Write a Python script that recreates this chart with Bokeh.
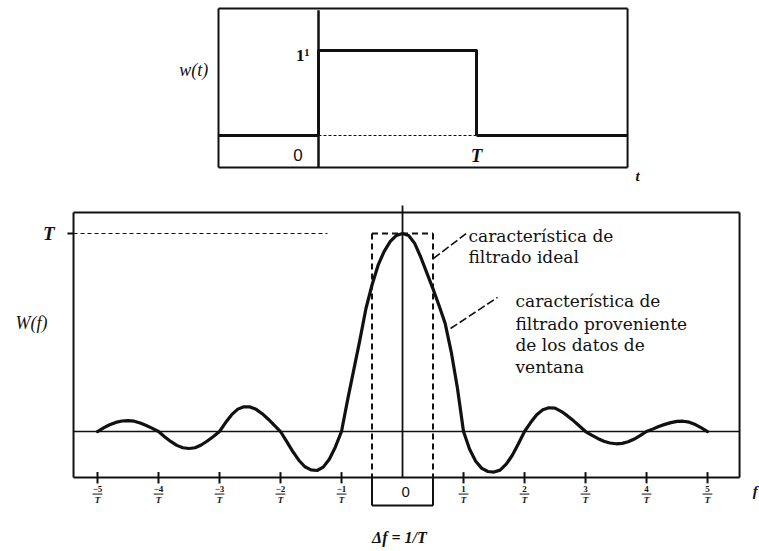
from bokeh.plotting import figure
from bokeh.layouts import column
from bokeh.models import Range1d
from bokeh.core.properties import value
from bokeh.embed import file_html
from bokeh.resources import INLINE

# ---------------- data ----------------
# window function w(t): rectangular pulse of height 1 from 0 to T (T = 1)
window_t = [0, 0, 1, 1]
window_w = [0, 1, 1, 0]

# spectrum W(f) (f in units of 1/T, W in units of T)
spec_f = [-5.0, -4.9, -4.8, -4.7, -4.6, -4.5, -4.4, -4.3, -4.2, -4.1,
          -4.0, -3.9, -3.8, -3.7, -3.6, -3.5, -3.4, -3.3, -3.2, -3.1,
          -3.0, -2.9, -2.8, -2.7, -2.6, -2.5, -2.4, -2.3, -2.2, -2.1,
          -2.0, -1.9, -1.8, -1.7, -1.6, -1.5, -1.4, -1.3, -1.2, -1.1,
          -1.0, -0.9, -0.8, -0.7, -0.6, -0.5, -0.4, -0.3, -0.2, -0.1,
          0.0, 0.1, 0.2, 0.3, 0.4, 0.5, 0.6, 0.7, 0.8, 0.9,
          1.0, 1.1, 1.2, 1.3, 1.4, 1.5, 1.6, 1.7, 1.8, 1.9,
          2.0, 2.1, 2.2, 2.3, 2.4, 2.5, 2.6, 2.7, 2.8, 2.9,
          3.0, 3.1, 3.2, 3.3, 3.4, 3.5, 3.6, 3.7, 3.8, 3.9,
          4.0, 4.1, 4.2, 4.3, 4.4, 4.5, 4.6, 4.7, 4.8, 4.9, 5.0]
spec_W = [0.0, 0.018, 0.034, 0.046, 0.053, 0.055, 0.052, 0.043, 0.030, 0.016,
          0.0, -0.026, -0.050, -0.070, -0.082, -0.086, -0.082, -0.068, -0.048, -0.025,
          0.0, 0.045, 0.085, 0.113, 0.125, 0.124, 0.112, 0.090, 0.062, 0.031,
          0.0, -0.050, -0.100, -0.145, -0.178, -0.194, -0.197, -0.180, -0.140, -0.078,
          0.0, 0.16, 0.31, 0.46, 0.62, 0.74, 0.84, 0.91, 0.96, 0.99,
          1.0, 0.99, 0.95, 0.88, 0.80, 0.72, 0.635, 0.545, 0.40, 0.22,
          0.0, -0.090, -0.150, -0.186, -0.202, -0.205, -0.195, -0.165, -0.120, -0.062,
          0.0, 0.045, 0.085, 0.110, 0.120, 0.118, 0.102, 0.080, 0.055, 0.028,
          0.0, -0.018, -0.035, -0.049, -0.058, -0.062, -0.060, -0.052, -0.038, -0.020,
          0.0, 0.012, 0.025, 0.036, 0.045, 0.051, 0.052, 0.047, 0.035, 0.018, 0.0]

# ideal filter: passband of width 1/T centred on 0, height T
ideal_f = [-0.5, 0.5]
ideal_W = 1.0

# frequency ticks
tick_vals = [-5, -4, -3, -2, -1, 1, 2, 3, 4, 5]
tick_nums = ["\u22125", "\u22124", "\u22123", "\u22122", "\u22121", "1", "2", "3", "4", "5"]
tick_den = "T"

ann_ideal = ["característica de", "filtrado ideal"]
ann_window = ["característica de", "filtrado proveniente", "de los datos de", "ventana"]

INK = "#111111"
SERIF = "DejaVu Serif"
TSERIF = "Liberation Serif"


def make_fig(w, h, xr, yr):
    p = figure(width=w, height=h, x_range=Range1d(*xr), y_range=Range1d(*yr),
               output_backend="svg", toolbar_location=None,
               x_axis_location=None, y_axis_location=None,
               min_border=0, outline_line_color=None,
               background_fill_color="white", border_fill_color="white")
    p.grid.visible = False
    return p


# ---------------- top panel: w(t) ----------------
top = make_fig(759, 193, (-2.0127, 2.791), (-0.682, 1.588))
tl, tr, tb, tt = -0.633, 1.956, -0.376, 1.494

# frame
top.segment(x0=[tl, tr, tl, tl], y0=[tb, tb, tt, tb], x1=[tl, tr, tr, tr], y1=[tt, tt, tt, tb],
            line_color=INK, line_width=2)
# t = 0 divider
top.segment(x0=[0], y0=[tb], x1=[0], y1=[tt - 0.02], line_color=INK, line_width=2.5)
# thin time axis under the pulse
top.line(x=[window_t[0], window_t[-1]], y=[0, 0], line_color=INK, line_width=1.2, line_dash="3 2")
# zero level outside the pulse
top.segment(x0=[tl, window_t[-1]], y0=[0, 0], x1=[window_t[0], tr], y1=[0, 0],
            line_color=INK, line_width=3)
# the pulse
top.line(x=window_t, y=window_w, line_color=INK, line_width=3, line_join="round")

top.text(x=[-0.79], y=[0.765], text=["w(t)"], text_font=value(TSERIF), text_font_style="italic",
         text_font_size="18px", text_align="center", text_baseline="middle", text_color=INK)
top.text(x=[-0.10], y=[0.94], text=["1\u00b9"], text_font=value(TSERIF), text_font_style="bold",
         text_font_size="17px", text_align="center", text_baseline="middle", text_color=INK)
top.text(x=[-0.13], y=[-0.235], text=["0"], text_font=value("Liberation Sans"),
         text_font_size="17px", text_align="center", text_baseline="middle", text_color=INK)
top.text(x=[1.0], y=[-0.235], text=["T"], text_font=value(TSERIF), text_font_style="bold italic",
         text_font_size="19px", text_align="center", text_baseline="middle", text_color=INK)
top.text(x=[2.02], y=[-0.48], text=["t"], text_font=value(TSERIF), text_font_style="bold italic",
         text_font_size="15px", text_align="center", text_baseline="middle", text_color=INK)

# ---------------- bottom panel: W(f) ----------------
bot = make_fig(759, 358, (-6.590, 5.852), (-0.606, 1.202))
fl, fr, fb, ft = -5.393, 5.525, -0.232, 1.106
box_b = -0.374

# frame
bot.segment(x0=[fl, fr, fl, fl], y0=[fb, fb, ft, fb], x1=[fl, fr, fr, fr], y1=[ft, ft, ft, fb],
            line_color=INK, line_width=2)
# zero line
bot.segment(x0=[fl], y0=[0], x1=[fr], y1=[0], line_color=INK, line_width=1.6)
# f = 0 line
bot.segment(x0=[0], y0=[fb], x1=[0], y1=[ft + 0.035], line_color=INK, line_width=1.8)
# dotted T level
bot.segment(x0=[fl], y0=[ideal_W], x1=[-1.23], y1=[ideal_W], line_color=INK, line_width=1.2,
            line_dash="4 3")
bot.segment(x0=[fl - 0.1], y0=[ideal_W], x1=[fl], y1=[ideal_W], line_color=INK, line_width=2)

# ideal filter (dashed box, continuing down to the "0" box)
bot.segment(x0=ideal_f, y0=[ideal_W, ideal_W], x1=ideal_f, y1=[fb, fb], line_color=INK,
            line_width=2, line_dash="6 4")
bot.segment(x0=[ideal_f[0]], y0=[ideal_W], x1=[ideal_f[1]], y1=[ideal_W], line_color=INK,
            line_width=2, line_dash="6 4")
bot.segment(x0=ideal_f + [ideal_f[0]], y0=[fb, fb, box_b], x1=ideal_f + [ideal_f[1]],
            y1=[box_b, box_b, box_b], line_color=INK, line_width=2)

# window spectrum
bot.line(x=spec_f, y=spec_W, line_color=INK, line_width=3.2, line_join="round", line_cap="round")

# ticks and fraction labels
bot.segment(x0=tick_vals, y0=[-0.205] * len(tick_vals), x1=tick_vals, y1=[-0.262] * len(tick_vals),
            line_color=INK, line_width=2)
bot.segment(x0=[v - 0.08 for v in tick_vals], y0=[-0.316] * len(tick_vals),
            x1=[v + 0.08 for v in tick_vals], y1=[-0.316] * len(tick_vals),
            line_color=INK, line_width=1)
bot.text(x=tick_vals, y=[-0.288] * len(tick_vals), text=tick_nums, text_font=value(TSERIF),
         text_font_style="bold", text_font_size="9px", text_align="center", text_baseline="middle",
         text_color=INK)
bot.text(x=tick_vals, y=[-0.345] * len(tick_vals), text=[tick_den] * len(tick_vals),
         text_font=value(TSERIF), text_font_style="bold italic", text_font_size="9px",
         text_align="center", text_baseline="middle", text_color=INK)
bot.text(x=[0.05], y=[-0.303], text=["0"], text_font=value("Liberation Sans"),
         text_font_size="15px", text_align="center", text_baseline="middle", text_color=INK)
bot.text(x=[5.74], y=[-0.30], text=["f"], text_font=value(TSERIF), text_font_style="bold italic",
         text_font_size="15px", text_align="left", text_baseline="middle", text_color=INK)
bot.text(x=[-0.05], y=[-0.535], text=["\u0394f = 1/T"], text_font=value(TSERIF),
         text_font_style="bold italic", text_font_size="16px", text_align="center",
         text_baseline="middle", text_color=INK)

# axis labels
bot.text(x=[-5.80], y=[1.0], text=["T"], text_font=value(TSERIF), text_font_style="bold italic",
         text_font_size="19px", text_align="center", text_baseline="middle", text_color=INK)
bot.text(x=[-6.08], y=[0.55], text=["W(f)"], text_font=value(TSERIF), text_font_style="italic",
         text_font_size="18px", text_align="center", text_baseline="middle", text_color=INK)

# annotations with leader lines
bot.segment(x0=[0.508, 0.787], y0=[0.874, 0.520], x1=[1.066, 1.557], y1=[1.005, 0.677],
            line_color=INK, line_width=1.6, line_dash="8 3")
bot.text(x=[1.082] * 2, y=[0.985, 0.879], text=ann_ideal, text_font=value(SERIF),
         text_font_size="17px", text_align="left", text_baseline="middle", text_color=INK)
bot.text(x=[1.852] * 4, y=[0.657, 0.545, 0.439, 0.328], text=ann_window, text_font=value(SERIF),
         text_font_size="17px", text_align="left", text_baseline="middle", text_color=INK)

layout = column(top, bot, spacing=0)
open("out.html", "w").write(file_html(layout, INLINE))
